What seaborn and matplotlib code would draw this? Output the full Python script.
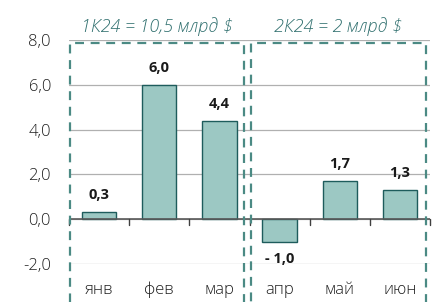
import matplotlib.pyplot as plt
import matplotlib.patches as mpatches
import pandas as pd
import seaborn as sns

months = ["янв", "фев", "мар", "апр", "май", "июн"]
values = [0.3, 6.0, 4.4, -1.0, 1.7, 1.3]
value_labels = ["0,3", "6,0", "4,4", "- 1,0", "1,7", "1,3"]
quarter_titles = ["1К24 = 10,5 млрд $", "2К24 = 2 млрд $"]
y_ticks = [-2, 0, 2, 4, 6, 8]
y_tick_labels = ["-2,0", "0,0", "2,0", "4,0", "6,0", "8,0"]

BAR = "#9cc8c3"
EDGE = "#1e5c5c"
BOX = "#4b8a84"
TITLE = "#2f6f6e"

sns.set_style("white")
plt.rcParams["font.family"] = ["Open Sans", "DejaVu Sans"]

df = pd.DataFrame({"month": months, "value": values})

fig = plt.figure(figsize=(4.4, 3.02), dpi=100)
ax = fig.add_axes([69 / 440, 1 - 264 / 302, 361 / 440, 224 / 302])

sns.barplot(data=df, x="month", y="value", color=BAR, width=0.57,
            edgecolor=EDGE, linewidth=1.0, saturation=1, ax=ax, zorder=3)

ax.set_ylim(-2, 8)
ax.set_xlim(-0.5, 5.5)
ax.set_yticks(y_ticks)
ax.set_yticklabels(y_tick_labels, fontsize=12, color="#1f1f1f", fontweight="light")
ax.yaxis.grid(True, color="#b0b0b0", lw=0.9, zorder=0)
for s in ax.spines.values():
    s.set_visible(False)
ax.tick_params(axis="y", length=0, pad=13)
ax.set_xlabel("")
ax.set_ylabel("")

# zero line with boundary ticks, labels placed low
ax.axhline(0, color="#595959", lw=1.2, zorder=4)
for b in range(7):
    ax.plot([b - 0.5, b - 0.5], [0, -0.27], color="#404040", lw=1.0, zorder=4, clip_on=False)
ax.set_xticks([])
for i, m in enumerate(months):
    ax.text(i, -3.15, m, ha="center", va="center", fontsize=12, color="#1f1f1f",
            fontweight="light")

# value labels
for i, (v, lab) in enumerate(zip(values, value_labels)):
    if v >= 0:
        ax.text(i, v + 0.45, lab, ha="center", va="bottom", fontsize=10.5,
                fontweight="bold", color="#1a1a1a")
    else:
        ax.text(i, v - 0.45, lab, ha="center", va="top", fontsize=10.5,
                fontweight="bold", color="#1a1a1a")

# quarter boxes
for x0, x1, title in [(-0.48, 2.41, quarter_titles[0]), (2.52, 5.43, quarter_titles[1])]:
    rect = mpatches.Rectangle((x0, -4.5), x1 - x0, 7.87 + 4.5, fill=False,
                              edgecolor=BOX, lw=1.6, linestyle=(0, (4, 3)),
                              clip_on=False, zorder=5)
    ax.add_patch(rect)
    ax.text((x0 + x1) / 2, 8.6, title, ha="center", va="center", fontsize=13,
            style="italic", fontweight="light", color=TITLE)

fig.savefig("out.png", dpi=100)
